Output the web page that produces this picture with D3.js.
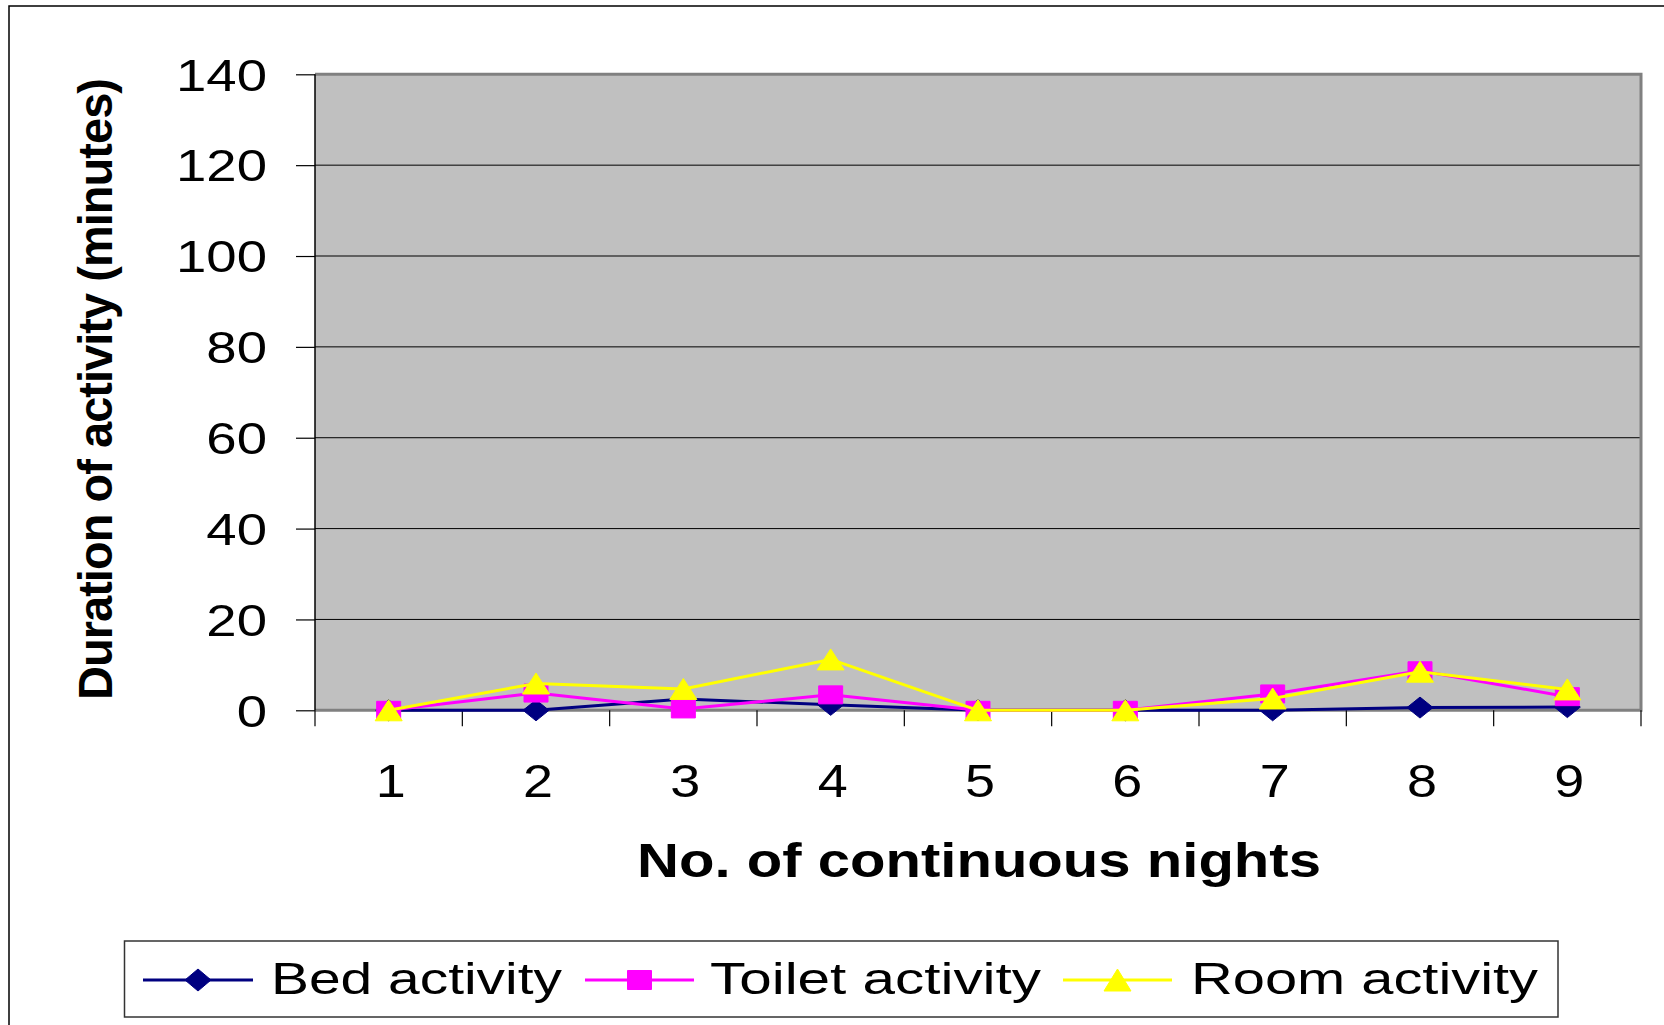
<!DOCTYPE html>
<html>
<head>
<meta charset="utf-8">
<script src="https://cdn.jsdelivr.net/npm/d3@7"></script>
<style>
  body { margin: 0; background: #fff; }
  svg { display: block; font-family: "Liberation Sans", Arial, sans-serif; }
</style>
</head>
<body>
<div id="chart"></div>
<script>
// data
var nights = ["1", "2", "3", "4", "5", "6", "7", "8", "9"];
var bedActivity = [0, 0, 2.5, 1.2, 0, 0, 0, 0.6, 0.7];
var toiletActivity = [0, 3.8, 0.3, 3.4, 0, 0, 3.6, 8.7, 3.0];
var roomActivity = [0, 5.9, 4.7, 11.2, 0, 0, 2.6, 8.5, 4.6];
var yTicks = [0, 20, 40, 60, 80, 100, 120, 140];
var seriesNames = ["Bed activity", "Toilet activity", "Room activity"];

var W = 1664, H = 1025;
var svg = d3.select("#chart").append("svg")
    .attr("width", W)
    .attr("height", H);

var plot = {left: 315, right: 1641, top: 74.3, bottom: 710.3};

var x = d3.scaleBand().domain(nights).range([plot.left, plot.right]);
var y = d3.scaleLinear().domain([0, 140]).range([plot.bottom, plot.top]);

// outer chart border (runs off right / bottom edges)
svg.append("rect")
    .attr("x", 9).attr("y", 6)
    .attr("width", W + 20).attr("height", H + 20)
    .attr("fill", "none")
    .attr("stroke", "#000")
    .attr("stroke-width", 1.5);

// plot background
svg.append("rect")
    .attr("x", plot.left).attr("y", plot.top)
    .attr("width", plot.right - plot.left)
    .attr("height", plot.bottom - plot.top)
    .attr("fill", "#c0c0c0");

// gridlines
svg.append("g").selectAll("line")
    .data(yTicks.filter(function (d) { return d > 0 && d < 140; }))
    .enter().append("line")
    .attr("x1", plot.left).attr("x2", plot.right)
    .attr("y1", function (d) { return y(d); })
    .attr("y2", function (d) { return y(d); })
    .attr("stroke", "#000")
    .attr("stroke-width", 1);

// plot frame: grey top/right/bottom, black left axis
svg.append("path")
    .attr("d", "M" + plot.left + "," + plot.top + "H" + plot.right + "V" + plot.bottom + "H" + plot.left)
    .attr("fill", "none")
    .attr("stroke", "#808080")
    .attr("stroke-width", 3);
svg.append("line")
    .attr("x1", plot.left).attr("x2", plot.left)
    .attr("y1", plot.top).attr("y2", plot.bottom)
    .attr("stroke", "#000")
    .attr("stroke-width", 1.5);

// y axis
var yAxis = d3.axisLeft(y).tickValues(yTicks).tickSize(19).tickSizeOuter(0);
var gy = svg.append("g")
    .attr("transform", "translate(" + plot.left + ",0)")
    .call(yAxis);
gy.select(".domain").remove();
gy.selectAll(".tick line").attr("stroke", "#000").attr("stroke-width", 1.2);
gy.selectAll(".tick text")
    .attr("x", 0)
    .attr("dy", "0.36em")
    .attr("transform", "translate(-48,0) scale(1.24,1)")
    .attr("fill", "#000")
    .style("font-size", "44px")
    .style("font-family", "'Liberation Sans', Arial, sans-serif");

// x axis: labels at category centres, ticks on category boundaries
var xAxis = d3.axisBottom(x).tickSize(0).tickSizeOuter(0);
var gx = svg.append("g")
    .attr("transform", "translate(0," + plot.bottom + ")")
    .call(xAxis);
gx.select(".domain").remove();
gx.selectAll(".tick text")
    .attr("y", 0)
    .attr("dy", 0)
    .attr("transform", "translate(2,87) scale(1.16,1)")
    .attr("fill", "#000")
    .style("font-size", "46.5px")
    .style("font-family", "'Liberation Sans', Arial, sans-serif");

var bounds = nights.map(function (d) { return x(d); }).concat([x(nights[nights.length - 1]) + x.step()]);
svg.append("g").selectAll("line")
    .data(bounds)
    .enter().append("line")
    .attr("x1", function (d) { return d; })
    .attr("x2", function (d) { return d; })
    .attr("y1", plot.bottom)
    .attr("y2", plot.bottom + 16)
    .attr("stroke", "#000")
    .attr("stroke-width", 1.2);

// axis titles
svg.append("text")
    .attr("transform", "translate(112,389.5) rotate(-90)")
    .attr("text-anchor", "middle")
    .attr("textLength", 621)
    .attr("lengthAdjust", "spacingAndGlyphs")
    .style("font-size", "49px")
    .style("font-weight", "bold")
    .style("letter-spacing", "-1px")
    .text("Duration of activity (minutes)");

svg.append("text")
    .attr("x", 637)
    .attr("y", 877)
    .attr("textLength", 684)
    .attr("lengthAdjust", "spacingAndGlyphs")
    .style("font-size", "47.5px")
    .style("font-weight", "bold")
    .text("No. of continuous nights");

// marker shapes
function markerPath(kind, w, h) {
    var hw = w / 2, hh = h / 2;
    if (kind === "diamond") return "M0," + (-hh) + "L" + hw + ",0L0," + hh + "L" + (-hw) + ",0Z";
    if (kind === "square") return "M" + (-hw) + "," + (-hh) + "H" + hw + "V" + hh + "H" + (-hw) + "Z";
    return "M0," + (-hh) + "L" + hw + "," + hh + "H" + (-hw) + "Z";
}

var series = [
    {name: seriesNames[0], values: bedActivity, color: "#000080", marker: "diamond", mw: 26, mh: 21},
    {name: seriesNames[1], values: toiletActivity, color: "#ff00ff", marker: "square", mw: 24, mh: 18},
    {name: seriesNames[2], values: roomActivity, color: "#ffff00", marker: "triangle", mw: 27, mh: 21}
];

var line = d3.line()
    .x(function (d, i) { return x(nights[i]) + x.bandwidth() / 2; })
    .y(function (d) { return y(d); });

series.forEach(function (s) {
    var g = svg.append("g").attr("class", "series");
    g.append("path")
        .datum(s.values)
        .attr("d", line)
        .attr("fill", "none")
        .attr("stroke", s.color)
        .attr("stroke-width", 3)
        .attr("stroke-linejoin", "round");
    g.selectAll("path.mark")
        .data(s.values)
        .enter().append("path")
        .attr("class", "mark")
        .attr("transform", function (d, i) {
            return "translate(" + (x(nights[i]) + x.bandwidth() / 2) + "," + y(d) + ")";
        })
        .attr("d", markerPath(s.marker, s.mw, s.mh))
        .attr("fill", s.color)
        .attr("stroke", s.color)
        .attr("stroke-width", 1)
        .attr("stroke-linejoin", "round");
});

// legend
var legend = svg.append("g");
legend.append("rect")
    .attr("x", 124.5).attr("y", 941)
    .attr("width", 1558 - 124.5).attr("height", 1017 - 941)
    .attr("fill", "#fff")
    .attr("stroke", "#333")
    .attr("stroke-width", 1.5);

var legendItems = [
    {x1: 143, x2: 253, tx: 271, tw: 291},
    {x1: 585, x2: 694, tx: 710, tw: 331},
    {x1: 1063, x2: 1172, tx: 1191, tw: 347}
];
series.forEach(function (s, i) {
    var li = legendItems[i];
    legend.append("line")
        .attr("x1", li.x1).attr("x2", li.x2)
        .attr("y1", 980).attr("y2", 980)
        .attr("stroke", s.color)
        .attr("stroke-width", 3);
    legend.append("path")
        .attr("transform", "translate(" + ((li.x1 + li.x2) / 2) + ",980)")
        .attr("d", markerPath(s.marker, s.mw, s.mh + 1))
        .attr("fill", s.color)
        .attr("stroke", s.color)
        .attr("stroke-width", 1);
    legend.append("text")
        .attr("x", li.tx)
        .attr("y", 994)
        .attr("textLength", li.tw)
        .attr("lengthAdjust", "spacingAndGlyphs")
        .style("font-size", "45px")
        .attr("fill", "#000")
        .text(s.name);
});
</script>
</body>
</html>
